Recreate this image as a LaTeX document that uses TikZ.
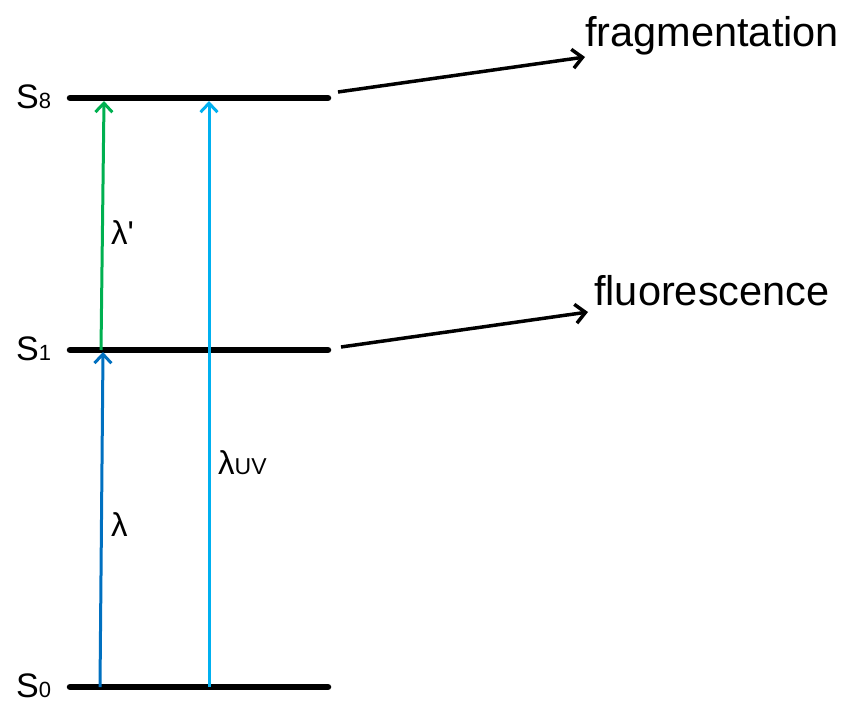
\documentclass[tikz,border=0pt]{standalone}
\usepackage{fontspec}
\setmainfont{Liberation Sans}
\newfontfamily\rawsans[Ligatures=TeXOff]{Liberation Sans}
\usetikzlibrary{arrows.meta}
\definecolor{cgreen}{HTML}{00B050}
\definecolor{cblue}{HTML}{0070C0}
\definecolor{clight}{HTML}{00B0F0}
\begin{document}
\begin{tikzpicture}[x=1pt,y=-1pt,
  level/.style={line width=6.5pt, line cap=round},
  excite/.style={line width=3pt, -{Straight Barb[length=9pt,width=17pt]}},
  outarrow/.style={line width=3.5pt, -{Straight Barb[length=10pt,width=19pt]}},
  lbl/.style={inner sep=0pt, anchor=base west, font=\fontsize{34}{34}\selectfont},
  lam/.style={inner sep=0pt, anchor=base west, font=\fontsize{33}{33}\selectfont},
  big/.style={inner sep=0pt, anchor=base west, font=\fontsize{41.5}{41.5}\selectfont}]
\useasboundingbox (0,0) rectangle (850,709);
% levels
\coordinate (s8l) at (70,98);  \coordinate (s8r) at (328,98);
\coordinate (s1l) at (70,350); \coordinate (s1r) at (328,350);
\coordinate (s0l) at (70,687); \coordinate (s0r) at (328,687);
\draw[level] (s8l) -- (s8r);
\draw[level] (s1l) -- (s1r);
\draw[level] (s0l) -- (s0r);
% level labels
\node[lbl] (l8) at (16,108) {S{\fontsize{22}{22}\selectfont 8}};
\node[lbl] (l1) at (16,360) {S{\fontsize{22}{22}\selectfont 1}};
\node[lbl] (l0) at (16,697) {S{\fontsize{22}{22}\selectfont 0}};
% excitation arrows
\coordinate (b0) at (100,687); \coordinate (b1) at (103,352);
\coordinate (g1) at (101,350); \coordinate (g8) at (104,101);
\coordinate (u0) at (209,687); \coordinate (u8) at (209,101);
\draw[excite, draw=cblue] (b0) -- (b1);
\draw[excite, draw=cgreen] (g1) -- (g8);
\draw[excite, draw=clight] (u0) -- (u8);
\node[lam] (lp) at (111,244) {λ{\rawsans '}};
\node[lam] (lb) at (111,536) {λ};
\node[lam] (luv) at (218,474) {λ{\fontsize{23}{23}\selectfont UV}};
% output arrows
\node[big] (frag) at (585,47) {fragmentation};
\node[big] (fluo) at (594,305) {fluorescence};
\coordinate (f1) at (338,92);  \coordinate (f2) at (585,57);
\coordinate (h1) at (341,347); \coordinate (h2) at (588,312);
\draw[outarrow] (f1) -- (f2);
\draw[outarrow] (h1) -- (h2);
\end{tikzpicture}
\end{document}
